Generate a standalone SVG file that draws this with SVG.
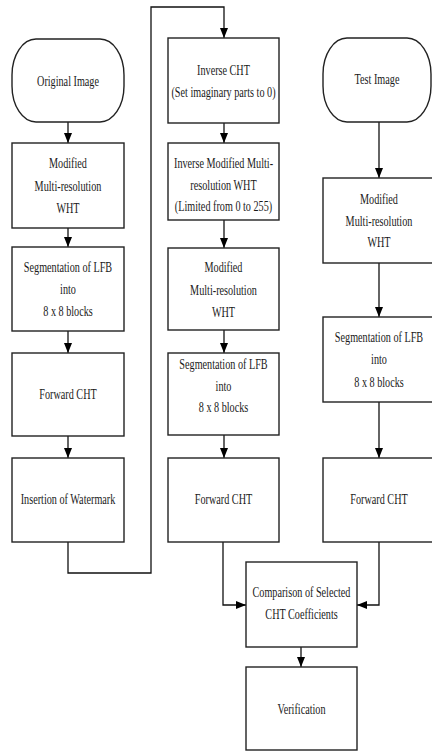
<svg xmlns="http://www.w3.org/2000/svg" width="432" height="751" viewBox="0 0 432 751">
<style>
.box{fill:#fff;stroke:#222;stroke-width:1.4}
.ln{fill:none;stroke:#111;stroke-width:1.3}
text{font-family:"Liberation Serif","Times New Roman",serif;font-size:15px;fill:#1a1a1a;text-anchor:middle}
</style>
<defs>
<marker id="ah" markerUnits="userSpaceOnUse" markerWidth="10" markerHeight="8" refX="10" refY="4" orient="auto">
<path d="M0,0 L10,4 L0,8 z" fill="#000"/>
</marker>
</defs>
<rect width="432" height="751" fill="#fff"/>
<g id="connectors">
<path class="ln" d="M68,122 V143" marker-end="url(#ah)"/>
<path class="ln" d="M68,228 V247" marker-end="url(#ah)"/>
<path class="ln" d="M68,331 V353" marker-end="url(#ah)"/>
<path class="ln" d="M68,436 V458" marker-end="url(#ah)"/>
<path class="ln" d="M68,542 V573 H151 V7 H224 V38" marker-end="url(#ah)"/>
<path class="ln" d="M224,123 V143" marker-end="url(#ah)"/>
<path class="ln" d="M224,220 V248" marker-end="url(#ah)"/>
<path class="ln" d="M224,330 V353" marker-end="url(#ah)"/>
<path class="ln" d="M224,435 V458" marker-end="url(#ah)"/>
<path class="ln" d="M223,542 V605 H246" marker-end="url(#ah)"/>
<path class="ln" d="M379,122 V178" marker-end="url(#ah)"/>
<path class="ln" d="M379,263 V317" marker-end="url(#ah)"/>
<path class="ln" d="M379,402 V458" marker-end="url(#ah)"/>
<path class="ln" d="M379,542 V605 H357" marker-end="url(#ah)"/>
<path class="ln" d="M301,647 V667" marker-end="url(#ah)"/>
</g>
<g id="original-image">
<rect class="box" x="12" y="39" width="112" height="83" rx="24" ry="36"/>
<text transform="translate(68,86) scale(0.68,1)">Original Image</text>
</g>
<g id="l-mwht">
<rect class="box" x="12" y="143" width="112" height="85"/>
<text transform="translate(68,168) scale(0.68,1)">Modified</text>
<text transform="translate(68,191) scale(0.68,1)">Multi-resolution</text>
<text transform="translate(68,213) scale(0.68,1)">WHT</text>
</g>
<g id="l-seg">
<rect class="box" x="12" y="247" width="112" height="84"/>
<text transform="translate(68,272) scale(0.68,1)">Segmentation of LFB</text>
<text transform="translate(68,294) scale(0.68,1)">into</text>
<text transform="translate(68,316) scale(0.68,1)">8 x 8 blocks</text>
</g>
<g id="l-fcht">
<rect class="box" x="12" y="353" width="112" height="83"/>
<text transform="translate(68,399) scale(0.68,1)">Forward CHT</text>
</g>
<g id="l-insert">
<rect class="box" x="12" y="458" width="112" height="84"/>
<text transform="translate(68,504) scale(0.68,1)">Insertion of Watermark</text>
</g>
<g id="m-icht">
<rect class="box" x="168" y="38" width="111" height="85"/>
<text transform="translate(223.5,75) scale(0.68,1)">Inverse CHT</text>
<text transform="translate(223.5,97) scale(0.68,1)">(Set imaginary parts to 0)</text>
</g>
<g id="m-imwht">
<rect class="box" x="168" y="143" width="111" height="77"/>
<text transform="translate(223.5,168) scale(0.68,1)">Inverse Modified Multi-</text>
<text transform="translate(223.5,190) scale(0.68,1)">resolution WHT</text>
<text transform="translate(223.5,211) scale(0.68,1)">(Limited from 0 to 255)</text>
</g>
<g id="m-mwht">
<rect class="box" x="168" y="248" width="111" height="82"/>
<text transform="translate(223.5,272) scale(0.68,1)">Modified</text>
<text transform="translate(223.5,295) scale(0.68,1)">Multi-resolution</text>
<text transform="translate(223.5,317) scale(0.68,1)">WHT</text>
</g>
<g id="m-seg">
<rect class="box" x="168" y="353" width="111" height="82"/>
<text transform="translate(223.5,369) scale(0.68,1)">Segmentation of LFB</text>
<text transform="translate(223.5,391) scale(0.68,1)">into</text>
<text transform="translate(223.5,412) scale(0.68,1)">8 x 8 blocks</text>
</g>
<g id="m-fcht">
<rect class="box" x="168" y="458" width="111" height="84"/>
<text transform="translate(223.5,504) scale(0.68,1)">Forward CHT</text>
</g>
<g id="test-image">
<rect class="box" x="323" y="38" width="108" height="84" rx="24" ry="36"/>
<text transform="translate(377,84) scale(0.68,1)">Test Image</text>
</g>
<g id="r-mwht">
<rect class="box" x="323" y="178" width="114" height="85"/>
<text transform="translate(379,204) scale(0.68,1)">Modified</text>
<text transform="translate(379,226) scale(0.68,1)">Multi-resolution</text>
<text transform="translate(379,247) scale(0.68,1)">WHT</text>
</g>
<g id="r-seg">
<rect class="box" x="323" y="317" width="114" height="85"/>
<text transform="translate(379,342) scale(0.68,1)">Segmentation of LFB</text>
<text transform="translate(379,364) scale(0.68,1)">into</text>
<text transform="translate(379,387) scale(0.68,1)">8 x 8 blocks</text>
</g>
<g id="r-fcht">
<rect class="box" x="323" y="458" width="114" height="84"/>
<text transform="translate(379,504) scale(0.68,1)">Forward CHT</text>
</g>
<g id="comparison">
<rect class="box" x="246" y="562" width="111" height="85"/>
<text transform="translate(301.5,597) scale(0.68,1)">Comparison of Selected</text>
<text transform="translate(301.5,619) scale(0.68,1)">CHT Coefficients</text>
</g>
<g id="verification">
<rect class="box" x="246" y="667" width="111" height="83"/>
<text transform="translate(301.5,714) scale(0.68,1)">Verification</text>
</g>
</svg>
